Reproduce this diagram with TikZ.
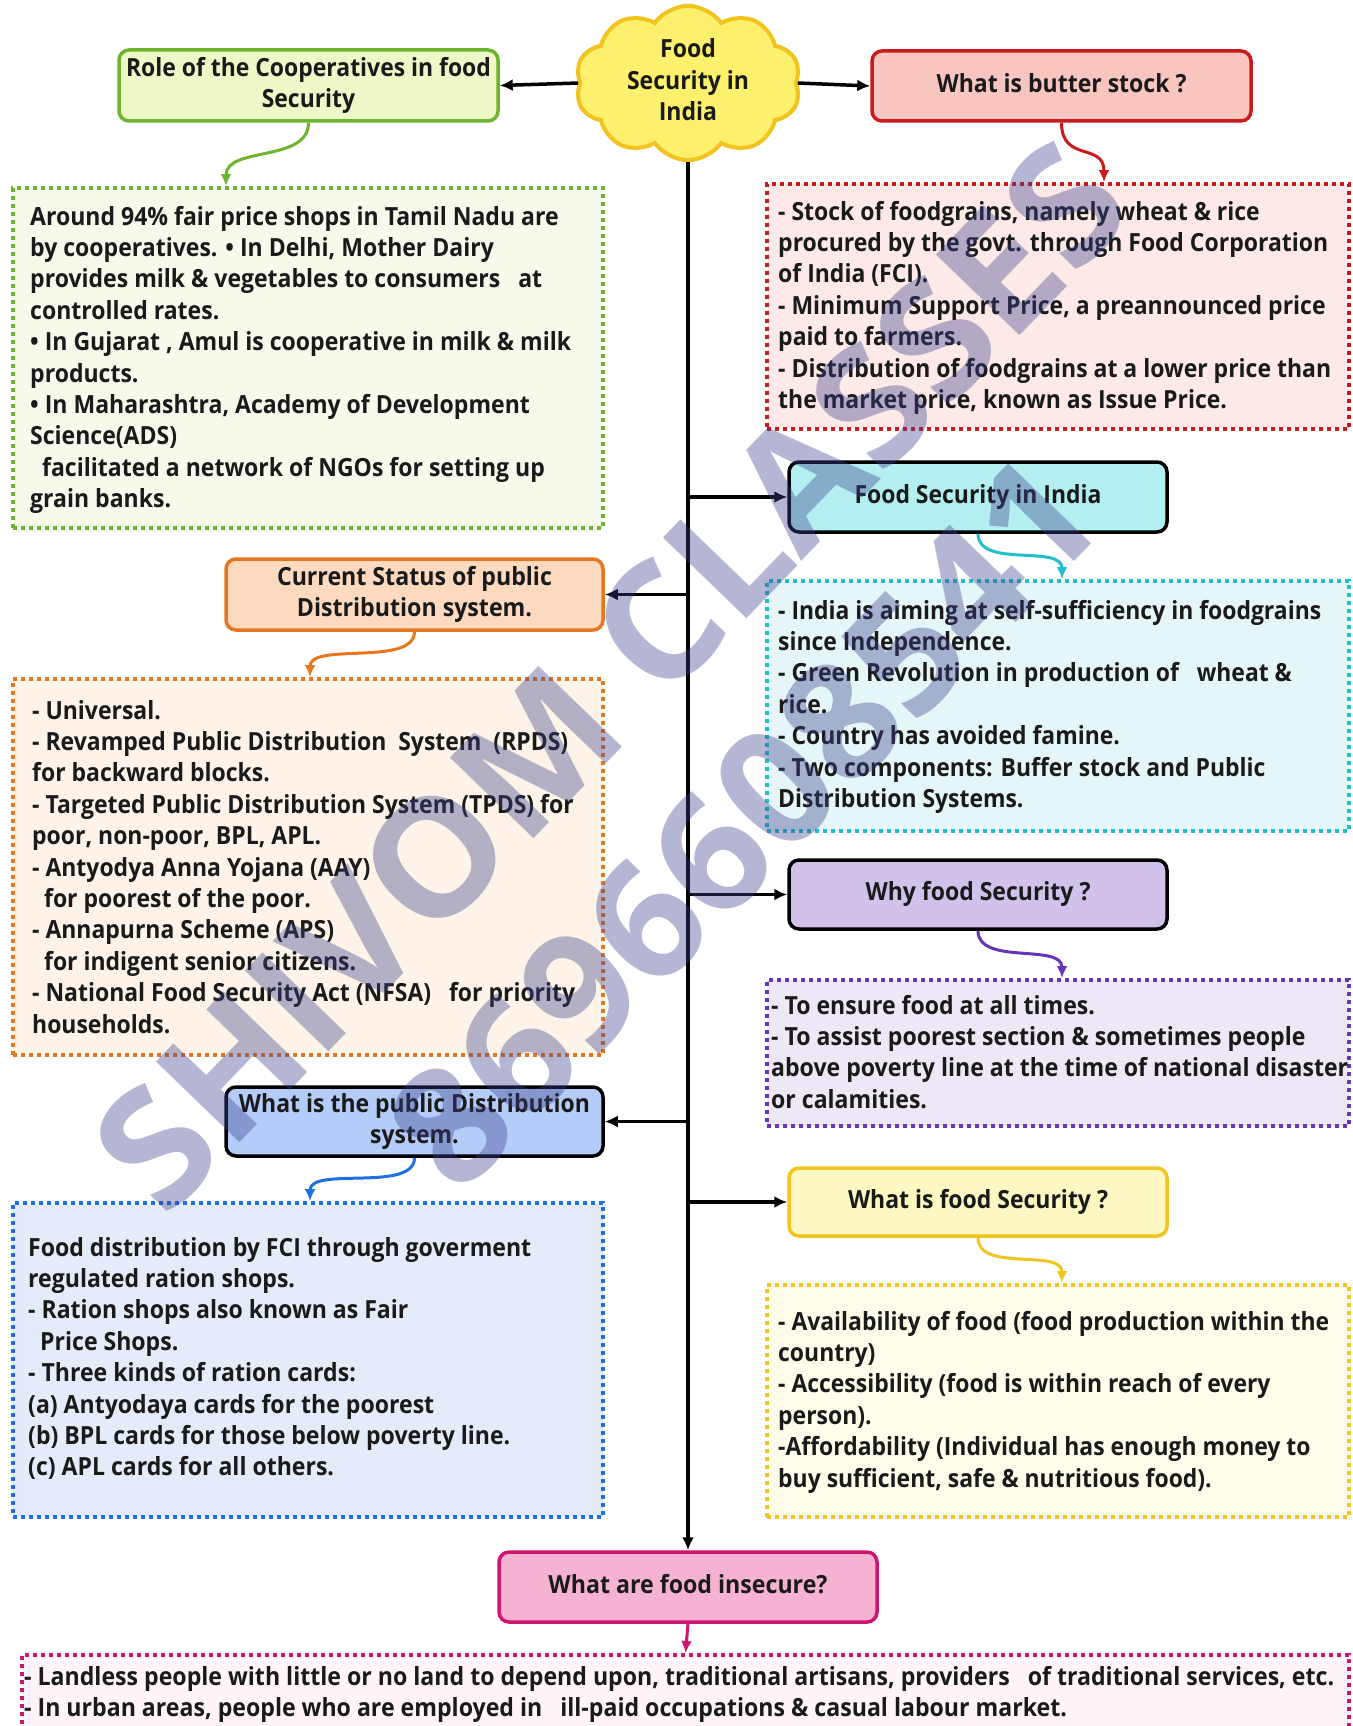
\documentclass[tikz,border=0pt]{standalone}
\usepackage{fontspec}
\setmainfont{Open Sans}
\usepackage{graphicx}
\usetikzlibrary{arrows.meta,shapes.symbols}

\definecolor{gB}{HTML}{6DB52F}\definecolor{gF}{HTML}{EEF7C8}\definecolor{gD}{HTML}{F6FAEA}
\definecolor{rB}{HTML}{C91A1E}\definecolor{rF}{HTML}{F8C5BF}\definecolor{rD}{HTML}{FDE9E8}
\definecolor{cB}{HTML}{20BFCB}\definecolor{cF}{HTML}{B3EEF0}\definecolor{cD}{HTML}{E4F6F8}
\definecolor{oB}{HTML}{E5781E}\definecolor{oF}{HTML}{FCD9BF}\definecolor{oD}{HTML}{FDF3E8}
\definecolor{pB}{HTML}{6A35B5}\definecolor{pF}{HTML}{D0C2EA}\definecolor{pD}{HTML}{EEE8F6}
\definecolor{bB}{HTML}{1F6FE5}\definecolor{bF}{HTML}{B4CCF8}\definecolor{bD}{HTML}{E4ECFA}
\definecolor{yB}{HTML}{F2C420}\definecolor{yF}{HTML}{FDF7C2}\definecolor{yD}{HTML}{FEFDE9}
\definecolor{mB}{HTML}{D0156E}\definecolor{mF}{HTML}{F5B3D1}\definecolor{mD}{HTML}{FFF4F9}
\definecolor{clF}{HTML}{FDF06C}\definecolor{clB}{HTML}{F2C31E}
\definecolor{ink}{HTML}{1A1A1A}
\definecolor{wmC}{RGB}{60,65,140}

\newcommand\tbox[2]{\resizebox{#1}{\height}{\begin{tabular}[t]{@{}l@{}}#2\end{tabular}}}
\newcommand\cbox[2]{\resizebox{#1}{\height}{\begin{tabular}{@{}c@{}}#2\end{tabular}}}

\tikzset{
  fnt/.style={font=\bfseries\fontsize{25}{31.4}\selectfont, text=ink},
  hdr/.style={fnt, rounded corners=10pt, line width=3.5pt, minimum width=378pt, minimum height=70pt, inner sep=0pt},
  dbox/.style={line width=4pt, dash pattern=on 4pt off 4pt, inner sep=0pt},
  txt/.style={fnt, anchor=base west, inner sep=0pt},
  blk/.style={line width=3.5pt, draw=black, -{Latex[length=13pt,width=12pt]}},
  wav/.style={line width=3pt, -{Latex[length=12pt,width=11pt]}},
  wm/.style={rotate=46, text=wmC, opacity=0.38, inner sep=0pt, font=\bfseries},
}

\begin{document}
\begin{tikzpicture}[x=1pt,y=-1pt]
\fill[white] (0,0) rectangle (1352,1726);
\useasboundingbox (0,0) rectangle (1352,1726);

% ---- dotted content boxes ----
\node[dbox, draw=gB, fill=gD, minimum width=590pt, minimum height=340pt] (coopD) at (308,358) {};
\node[dbox, draw=rB, fill=rD, minimum width=582pt, minimum height=245pt] (butterD) at (1058,306.5) {};
\node[dbox, draw=cB, fill=cD, minimum width=582pt, minimum height=250pt] (fsiD) at (1058,706) {};
\node[dbox, draw=oB, fill=oD, minimum width=590pt, minimum height=376pt] (curD) at (308,867) {};
\node[dbox, draw=pB, fill=pD, minimum width=582pt, minimum height=146pt] (whyD) at (1058,1053) {};
\node[dbox, draw=bB, fill=bD, minimum width=590pt, minimum height=314pt] (pdsD) at (308,1360) {};
\node[dbox, draw=yB, fill=yD, minimum width=582pt, minimum height=232pt] (whatD) at (1058,1401) {};
\node[dbox, draw=mB, fill=mD, minimum width=1327pt, minimum height=105pt] (insecD) at (685.5,1707.5) {};

% ---- texts in content boxes ----
\node[txt] (coopT) at (30,225) {\tbox{541pt}{Around 94\% fair price shops in Tamil Nadu are\\
by cooperatives. • In Delhi, Mother Dairy\\
provides milk \& vegetables to consumers\ \ \ at\\
controlled rates.\\
• In Gujarat , Amul is cooperative in milk \& milk\\
products.\\
• In Maharashtra, Academy of Development\\
Science(ADS)\\
\ \ facilitated a network of NGOs for setting up\\
grain banks.}};

\node[txt] (butterT) at (778,220) {\tbox{553pt}{- Stock of foodgrains, namely wheat \& rice\\
procured by the govt. through Food Corporation\\
of India (FCI).\\
- Minimum Support Price, a preannounced price\\
paid to farmers.\\
- Distribution of foodgrains at a lower price than\\
the market price, known as Issue Price.}};

\node[txt] (fsiT) at (778,619) {\tbox{543pt}{- India is aiming at self-sufficiency in foodgrains\\
since Independence.\\
- Green Revolution in production of\ \ \ wheat \&\\
rice.\\
- Country has avoided famine.\\
- Two components: Buffer stock and Public\\
Distribution Systems.}};

\node[txt] (curT) at (32,719) {\tbox{543pt}{- Universal.\\
- Revamped Public Distribution\ \ System\ \ (RPDS)\\
for backward blocks.\\
- Targeted Public Distribution System (TPDS) for\\
poor, non-poor, BPL, APL.\\
- Antyodya Anna Yojana (AAY)\\
\ \ for poorest of the poor.\\
- Annapurna Scheme (APS)\\
\ \ for indigent senior citizens.\\
- National Food Security Act (NFSA)\ \ \ for priority\\
households.}};

\node[txt] (whyT) at (771,1014) {\tbox{577pt}{- To ensure food at all times.\\
- To assist poorest section \& sometimes people\\
above poverty line at the time of national disaster\\
or calamities.}};

\node[txt] (pdsT) at (28,1256) {\tbox{503pt}{Food distribution by FCI through goverment\\
regulated ration shops.\\
- Ration shops also known as Fair\\
\ \ Price Shops.\\
- Three kinds of ration cards:\\
(a) Antyodaya cards for the poorest\\
(b) BPL cards for those below poverty line.\\
(c) APL cards for all others.}};

\node[txt] (whatT) at (778,1330) {\tbox{551pt}{- Availability of food (food production within the\\
country)\\
- Accessibility (food is within reach of every\\
person).\\
-Affordability (Individual has enough money to\\
buy sufficient, safe \& nutritious food).}};

\node[txt] (insecT) at (24,1685) {\tbox{1310pt}{- Landless people with little or no land to depend upon, traditional artisans, providers\ \ \ of traditional services, etc.\\
- In urban areas, people who are employed in\ \ \ ill-paid occupations \& casual labour market.}};

% ---- header boxes ----
\node[cloud, cloud puffs=10, cloud puff arc=110, cloud ignores aspect, minimum width=225pt, minimum height=149pt,
      fill=clF, draw=clB, line width=4pt, inner sep=0pt, fnt] (fs) at (688,83) {\cbox{122pt}{Food\\Security in\\India}};
\node[hdr, draw=gB, fill=gF, minimum width=379pt, minimum height=71pt] (coop) at (308.5,85.5) {\cbox{365pt}{Role of the Cooperatives in food\\Security}};
\node[hdr, draw=rB, fill=rF, minimum width=379pt] (butter) at (1061.5,86) {\cbox{250pt}{What is butter stock ?}};
\node[hdr, draw=black, fill=cF] (fsi) at (978,497) {\cbox{247pt}{Food Security in India}};
\node[hdr, draw=oB, fill=oF, minimum width=377pt, minimum height=71pt] (cur) at (414.5,594.5) {\cbox{275pt}{Current Status of public\\Distribution system.}};
\node[hdr, draw=black, fill=pF, minimum height=69pt] (why) at (978,894.5) {\cbox{225pt}{Why food Security ?}};
\node[hdr, draw=black, fill=bF, minimum width=377pt, minimum height=69pt] (pds) at (414.5,1121.5) {\cbox{351pt}{What is the public Distribution\\system.}};
\node[hdr, draw=yB, fill=yF, minimum height=68pt] (what) at (978,1202) {\cbox{260pt}{What is food Security ?}};
\node[hdr, draw=mB, fill=mF] (insec) at (688,1587) {\cbox{279pt}{What are food insecure?}};

% ---- black connectors ----
\draw[blk] (fs.west) -- (coop.east);
\draw[blk] (fs.east) -- (butter.west);
\draw[blk] (fs.south) -- (insec.north);
\draw[blk] (fs.south |- fsi.west) -- (fsi.west);
\draw[blk] (fs.south |- cur.east) -- (cur.east);
\draw[blk] (fs.south |- why.west) -- (why.west);
\draw[blk] (fs.south |- pds.east) -- (pds.east);
\draw[blk] (fs.south |- what.west) -- (what.west);

% ---- coloured wavy connectors ----
\draw[wav, draw=gB] (coop.south) .. controls +(0,40) and +(0,-40) .. ([xshift=-82pt]coopD.north);
\draw[wav, draw=rB] (butter.south) .. controls +(0,40) and +(0,-40) .. ([xshift=46pt]butterD.north);
\draw[wav, draw=cB] (fsi.south) .. controls +(0,35) and +(0,-35) .. ([xshift=4pt]fsiD.north);
\draw[wav, draw=oB] (cur.south) .. controls +(0,35) and +(0,-35) .. ([xshift=2pt]curD.north);
\draw[wav, draw=pB] (why.south) .. controls +(0,35) and +(0,-35) .. ([xshift=4pt]whyD.north);
\draw[wav, draw=bB] (pds.south) .. controls +(0,35) and +(0,-35) .. ([xshift=2pt]pdsD.north);
\draw[wav, draw=yB] (what.south) .. controls +(0,35) and +(0,-35) .. ([xshift=4pt]whatD.north);
\draw[wav, draw=mB] (insec.south) -- (insecD.north);

% ---- watermark ----
\node[wm] (wm1) at (610,676) {\resizebox{1400pt}{118pt}{SHIVOM CLASSES}};
\node[wm] (wm2) at (743,822) {\resizebox{935pt}{117pt}{8696608541}};
\end{tikzpicture}
\end{document}
